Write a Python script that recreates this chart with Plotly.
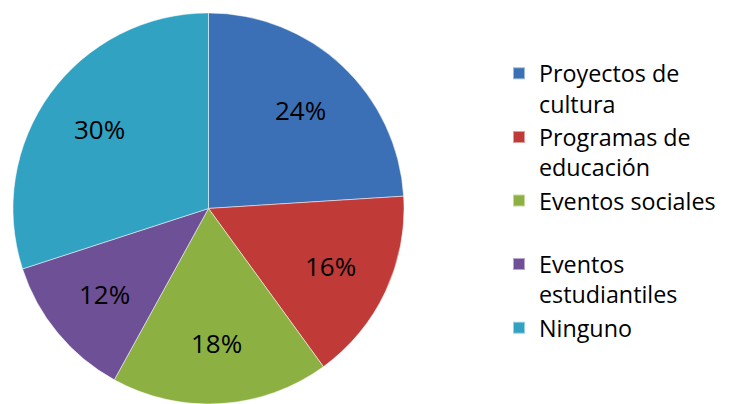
import math
import plotly.graph_objects as go

labels = ["Proyectos de<br>cultura", "Programas de<br>educación", "Eventos sociales<br> ",
          "Eventos<br>estudiantiles", "Ninguno"]
values = [24, 16, 18, 12, 30]
colors = ["#3b70b7", "#c03b38", "#8db043", "#6e5096", "#31a2c2"]

W, H = 735, 404
dom_x = [12 / W, 405 / W]
dom_y = [0.0, 0.968]
FONT = "Open Sans"

fig = go.Figure(go.Pie(
    labels=labels, values=values, sort=False, direction="clockwise", rotation=0,
    marker=dict(colors=colors, line=dict(color="rgba(255,255,255,0.5)", width=1)),
    textinfo="none", domain=dict(x=dom_x, y=dom_y), hoverinfo="skip",
))

# percentage labels placed along each slice's mid-angle (Excel style)
cx = (dom_x[0] + dom_x[1]) / 2 * W
cy = (dom_y[0] + dom_y[1]) / 2 * H
R = min((dom_x[1] - dom_x[0]) * W, (dom_y[1] - dom_y[0]) * H) / 2
total = sum(values)
cum = 0
for v in values:
    mid = (cum + v / 2) / total * 2 * math.pi
    cum += v
    r = 0.69 * R
    px = cx + r * math.sin(mid)
    py = cy + r * math.cos(mid)
    fig.add_annotation(x=px / W, y=py / H, xref="paper", yref="paper",
                       xanchor="center", yanchor="middle",
                       text=f"{round(v / total * 100)}%", showarrow=False,
                       font=dict(family=FONT, size=26, color="black"))

fig.update_layout(
    width=W, height=H, margin=dict(l=0, r=0, t=0, b=0),
    paper_bgcolor="white", plot_bgcolor="white",
    showlegend=True,
    legend=dict(x=499 / W, y=0.872, xanchor="left", yanchor="top", valign="top",
                font=dict(family=FONT, size=23.3, color="black"),
                tracegroupgap=0, itemsizing="constant"),
)
fig.write_html("out.html")
